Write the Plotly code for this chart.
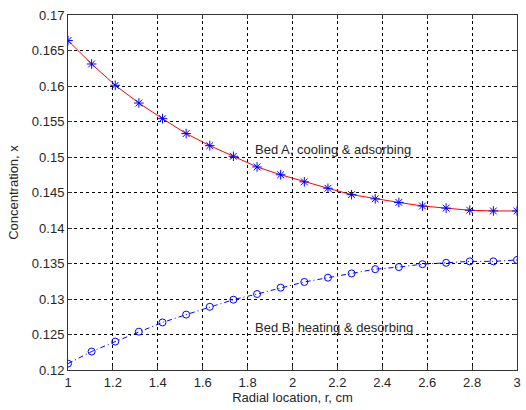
import numpy as np
import plotly.graph_objects as go

# Radial positions (cm), 20 nodes across the bed
r = np.linspace(1.0, 3.0, 20)

# Bed A: cooling & adsorbing
bed_a = [0.1664, 0.1631, 0.1601, 0.1576, 0.1554, 0.1533, 0.1516, 0.1501, 0.1486, 0.1475,
         0.1465, 0.1456, 0.1447, 0.1441, 0.1436, 0.1431, 0.1428, 0.1425, 0.1424, 0.1424]

# Bed B: heating & desorbing
bed_b = [0.1209, 0.1226, 0.1240, 0.1254, 0.1267, 0.1278, 0.1289, 0.1299, 0.1307, 0.1316,
         0.1324, 0.1330, 0.1336, 0.1342, 0.1345, 0.1349, 0.1351, 0.1353, 0.1353, 0.1355]

x_ticks = [1, 1.2, 1.4, 1.6, 1.8, 2, 2.2, 2.4, 2.6, 2.8, 3]
x_tick_text = ["1", "1.2", "1.4", "1.6", "1.8", "2", "2.2", "2.4", "2.6", "2.8", "3"]
y_ticks = [0.12, 0.125, 0.13, 0.135, 0.14, 0.145, 0.15, 0.155, 0.16, 0.165, 0.17]
y_tick_text = ["0.12", "0.125", "0.13", "0.135", "0.14", "0.145", "0.15", "0.155", "0.16", "0.165", "0.17"]

FONT = "Liberation Sans, Arial, sans-serif"
TEXT_COLOR = "#262626"

fig = go.Figure()

fig.add_trace(go.Scatter(
    x=r, y=bed_a, mode="lines",
    line=dict(color="#ff0000", width=1),
    showlegend=False,
))
fig.add_trace(go.Scatter(
    x=r, y=bed_a, mode="markers",
    marker=dict(symbol="asterisk-open", size=8, color="#0000ff",
                line=dict(color="#0000ff", width=1)),
    showlegend=False,
))
fig.add_trace(go.Scatter(
    x=r, y=bed_b, mode="lines+markers",
    line=dict(color="#0000ff", width=1, dash="5px,3px,1px,3px"),
    marker=dict(symbol="circle-open", size=7, color="#0000ff",
                line=dict(color="#0000ff", width=1)),
    showlegend=False,
))

fig.add_annotation(x=1.825, y=0.151, text="Bed A, cooling & adsorbing",
                   showarrow=False, xanchor="left", yanchor="middle",
                   font=dict(family=FONT, size=13, color=TEXT_COLOR))
fig.add_annotation(x=1.825, y=0.126, text="Bed B, heating & desorbing",
                   showarrow=False, xanchor="left", yanchor="middle",
                   font=dict(family=FONT, size=13, color=TEXT_COLOR))

axis_common = dict(
    showline=True, linecolor="#333333", linewidth=1, mirror="ticks",
    ticks="inside", ticklen=4, tickcolor="#333333",
    showgrid=True, gridcolor="#000000", gridwidth=1, griddash="3px,3px",
    zeroline=False,
    tickfont=dict(family=FONT, size=13, color=TEXT_COLOR),
)

fig.update_xaxes(
    range=[1, 3], tickvals=x_ticks, ticktext=x_tick_text,
    title=dict(text="Radial location, r, cm", standoff=3,
               font=dict(family=FONT, size=13, color=TEXT_COLOR)),
    **axis_common,
)
fig.update_yaxes(
    range=[0.12, 0.17], tickvals=y_ticks, ticktext=y_tick_text,
    title=dict(text="Concentration, x", standoff=10,
               font=dict(family=FONT, size=13, color=TEXT_COLOR)),
    **axis_common,
)

fig.update_layout(
    width=526, height=410,
    margin=dict(l=68, r=5, t=15, b=40),
    paper_bgcolor="white", plot_bgcolor="white",
)

fig.write_html("out.html")
